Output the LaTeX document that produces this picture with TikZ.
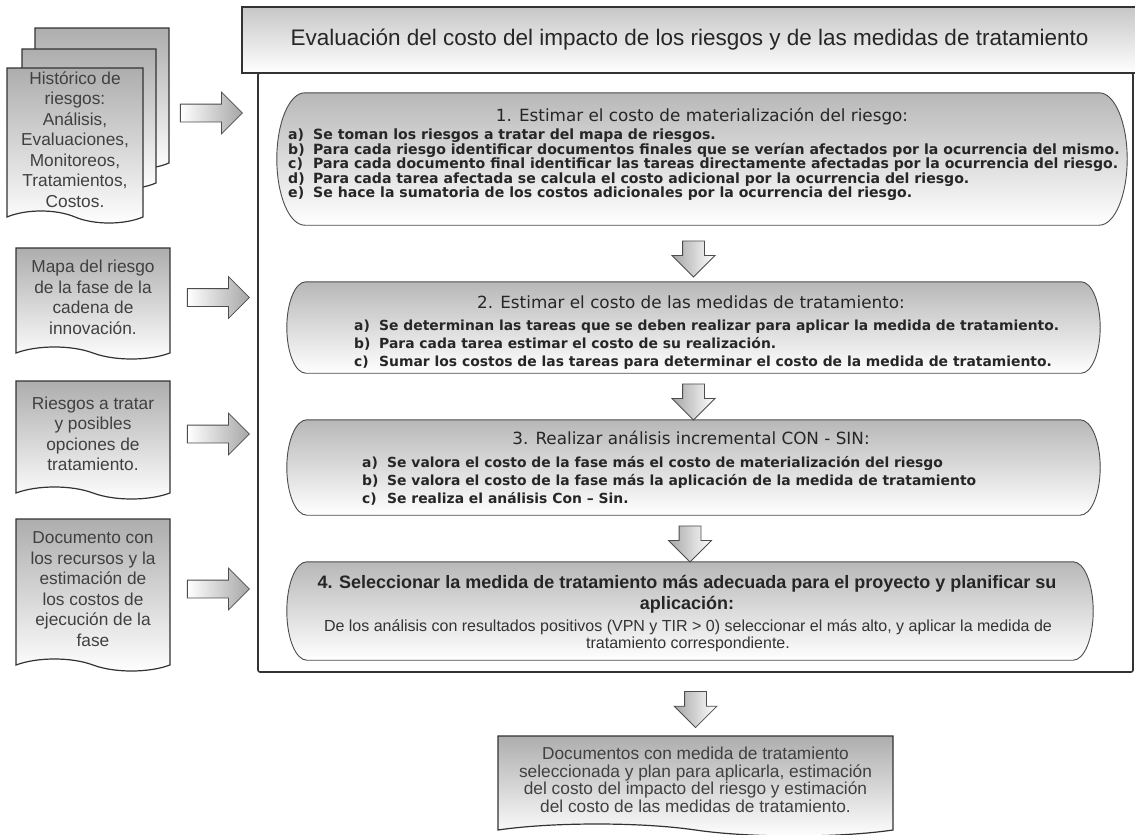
\documentclass[tikz,border=0pt]{standalone}
\usepackage{fontspec}
\setmainfont{Liberation Sans}
\newfontfamily\listfont{DejaVu Sans}
\usepackage{tikz}
\usetikzlibrary{shapes,arrows,calc}
\usetikzlibrary{positioning}
\tikzstyle{doc} =
  [tape, draw=black!80, line width=1.2pt, tape bend top=none,
   tape bend bottom=out and in, tape bend height=12pt,
   top color=black!32, bottom color=white, text=black!75, align=center,
   minimum width=154pt, inner sep=0pt,
   font=\fontsize{17.3}{20.5}\selectfont]
\tikzstyle{stepbox} = [rectangle, inner sep=0pt]
\tikzstyle{stepline} =
  [draw=black!70, line width=0.9pt, top color=black!28, bottom color=white]
\tikzstyle{steptitle} =
  [font=\listfont\fontsize{16.8}{21}\selectfont, text=black!85,
   align=center, inner sep=0pt]
\tikzstyle{steplist} =
  [font=\listfont\bfseries\fontsize{14.1}{14.3}\selectfont, text=black!85,
   align=left, inner sep=0pt, anchor=west]
\tikzstyle{looselist} = [steplist, font=\listfont\bfseries\fontsize{13.9}{18}\selectfont]
\tikzstyle{rarrow} =
  [single arrow, draw=black!70, line width=0.8pt, inner sep=8.5pt, sloped,
   minimum height=62pt, minimum width=41pt, single arrow head extend=12pt,
   left color=white, right color=black!35]
\tikzstyle{darrow} =
  [rarrow, inner sep=10.5pt, minimum height=36pt, minimum width=42pt,
   single arrow head extend=10.5pt, left color=black!35, right color=white]
\newcommand\lbl[1]{\makebox[25pt][l]{#1}}
% contorno de un paso: extremos en arco de elipse
\newcommand\stepshape[2]{%
  \path [stepline] let \p1=(#1.north), \p2=(#1.south), \n1={(\y1-\y2)/2} in
    ($(#1.north west)+(#2pt,0)$) -- ($(#1.north east)+(-#2pt,0)$)
    arc [start angle=90, end angle=-90, x radius=#2pt, y radius=\n1]
    -- ($(#1.south west)+(#2pt,0)$)
    arc [start angle=270, end angle=90, x radius=#2pt, y radius=\n1] -- cycle;}

\begin{document}
\begin{tikzpicture}[x=1pt, y=-1pt]
  \useasboundingbox (0,0) rectangle (1135,835);

  % marco y cabecera
  \node [rectangle, draw=black!80, line width=1.6pt, rounded corners=2pt,
    fill=white, inner sep=0pt, minimum width=875pt, minimum height=599pt]
    (frame) at (695.5,372.5) {};
  \node [rectangle, draw=black!80, line width=1.6pt, top color=black!22,
    bottom color=white, inner sep=0pt, minimum width=895pt, minimum height=66pt,
    font=\fontsize{22.5}{27}\selectfont, text=black!85] (head) at (689.5,40)
    {Evaluación del costo del impacto de los riesgos y de las medidas de tratamiento};

  % documentos de entrada
  \node [doc, minimum width=134pt, minimum height=141pt] (hist3) at (102,92.5) {};
  \node [doc, minimum width=134pt, minimum height=140pt] (hist2) at (89,113) {};
  \node [doc, minimum width=136pt, minimum height=155pt] (hist) at (75,139.5)
    {Histórico de\\riesgos:\\Análisis,\\Evaluaciones,\\Monitoreos,\\Tratamientos,\\Costos.};
  \node [doc, minimum height=111pt] (mapa) at (93,297.5)
    {Mapa del riesgo\\de la fase de la\\cadena de\\innovación.};
  \node [doc, minimum height=118pt] (riesgos) at (93,434)
    {Riesgos a tratar\\y posibles\\opciones de\\tratamiento.};
  \node [doc, minimum height=152pt] (recursos) at (93,589)
    {Documento con\\los recursos y la\\estimación de\\los costos de\\ejecución de la\\fase};

  % pasos
  \node [stepbox, minimum width=850pt, minimum height=132pt] (s1) at (702,159) {};
  \stepshape{s1}{28}
  \node [steptitle] (t1) at (702,117) {1. Estimar el costo de materialización del riesgo:};
  \node [steplist] (l1) at (288,164.5)
    {\lbl{a)}Se toman los riesgos a tratar del mapa de riesgos.\\
     \lbl{b)}Para cada riesgo identificar documentos finales que se verían afectados por la ocurrencia del mismo.\\
     \lbl{c)}Para cada documento final identificar las tareas directamente afectadas por la ocurrencia del riesgo.\\
     \lbl{d)}Para cada tarea afectada se calcula el costo adicional por la ocurrencia del riesgo.\\
     \lbl{e)}Se hace la sumatoria de los costos adicionales por la ocurrencia del riesgo.};

  \node [stepbox, minimum width=813pt, minimum height=91pt] (s2) at (693.5,327.5) {};
  \stepshape{s2}{19}
  \node [steptitle] (t2) at (691,302) {2. Estimar el costo de las medidas de tratamiento:};
  \node [looselist] (l2) at (354,345)
    {\lbl{a)}Se determinan las tareas que se deben realizar para aplicar la medida de tratamiento.\\
     \lbl{b)}Para cada tarea estimar el costo de su realización.\\
     \lbl{c)}Sumar los costos de las tareas para determinar el costo de la medida de tratamiento.};

  \node [stepbox, minimum width=813pt, minimum height=95pt] (s3) at (693.5,467.5) {};
  \stepshape{s3}{20}
  \node [steptitle] (t3) at (691,438) {3. Realizar análisis incremental CON - SIN:};
  \node [looselist] (l3) at (362,481)
    {\lbl{a)}Se valora el costo de la fase más el costo de materialización del riesgo\\
     \lbl{b)}Se valora el costo de la fase más la aplicación de la medida de tratamiento\\
     \lbl{c)}Se realiza el análisis Con – Sin.};

  \node [stepbox, minimum width=806pt, minimum height=98pt] (s4) at (690,611) {};
  \stepshape{s4}{20}
  \node [align=center, inner sep=0pt, text=black!85,
    font=\fontsize{18}{21}\selectfont\bfseries] (t4) at (687,594.5)
    {4. Seleccionar la medida de tratamiento más adecuada para el proyecto y planificar su\\aplicación:};
  \node [align=center, inner sep=0pt, text=black!80,
    font=\fontsize{16}{17}\selectfont] (b4) at (688,635.5)
    {De los análisis con resultados positivos (VPN y TIR > 0) seleccionar el más alto, y aplicar la medida de\\tratamiento correspondiente.};

  % documento de salida
  \node [doc, minimum width=395pt, minimum height=100pt,
    font=\fontsize{17.3}{17.5}\selectfont] (out) at (695.5,780)
    {Documentos con medida de tratamiento\\seleccionada y plan para aplicarla, estimación\\del costo del impacto del riesgo y estimación\\del costo de las medidas de tratamiento.};

  % flechas
  \path (hist2.east) -- node [rarrow] (a1) {} (hist2.east -| frame.west);
  \path (mapa.east) -- node [rarrow] (a2) {} (mapa.east -| frame.west);
  \path (riesgos.east) -- node [rarrow] (a3) {} (riesgos.east -| frame.west);
  \path (recursos.east) -- node [rarrow] (a4) {} (recursos.east -| frame.west);
  \path (s2.north |- s1.south) -- node [darrow] (d1) {} (s2.north);
  \path (s3.north |- s2.south) -- node [darrow] (d2) {} (s3.north);
  \path (s4.north |- s3.south) -- node [darrow] (d3) {} (s4.north);
  \path (out.north |- frame.south) -- node [darrow] (d4) {} (out.north);
\end{tikzpicture}
\end{document}
